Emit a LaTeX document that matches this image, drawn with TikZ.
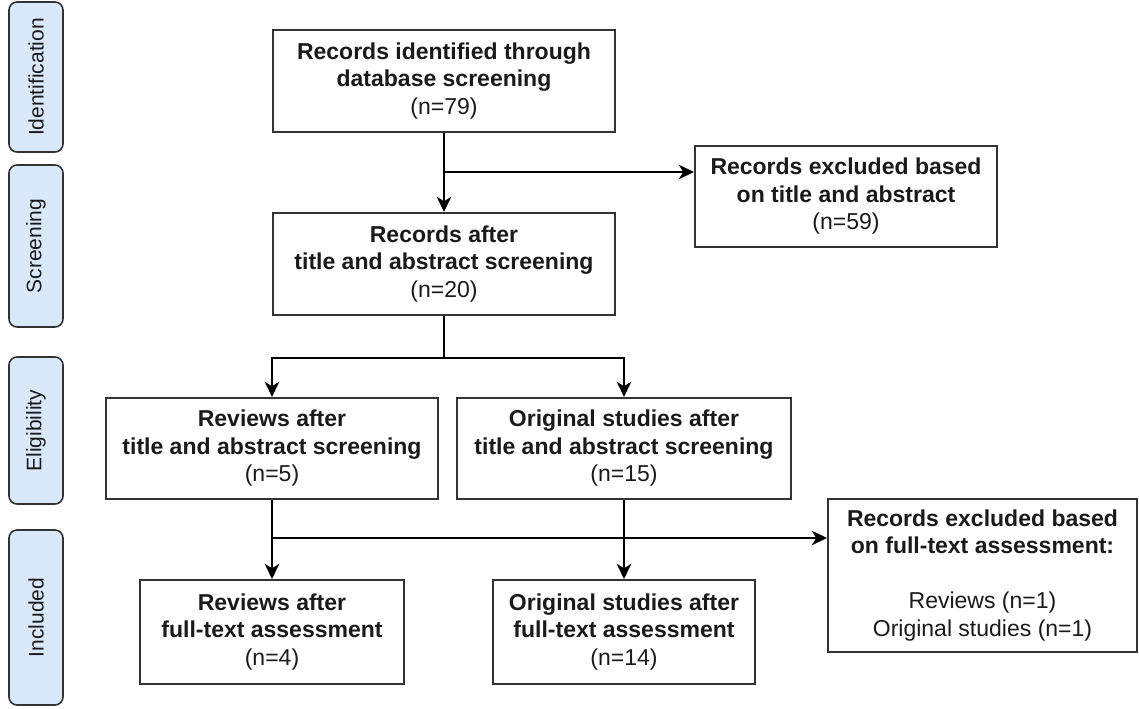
\documentclass[tikz,border=0pt]{standalone}
\usepackage{fontspec}
\setmainfont{Liberation Sans}
\usetikzlibrary{arrows.meta}
\definecolor{phasefill}{HTML}{DAE8FC}
\definecolor{edgegray}{HTML}{333333}
\definecolor{inkgray}{HTML}{1A1A1A}

\begin{document}
\begin{tikzpicture}[x=0.75pt,y=-0.75pt,
  box/.style={draw=edgegray, line width=1.5pt, fill=white, inner sep=0pt,
    align=center, text=inkgray, font=\fontsize{17.25}{20.6}\selectfont},
  phase/.style={draw=edgegray, line width=1.2pt, fill=phasefill,
    rounded corners=6pt, inner sep=0pt, rotate=90, minimum height=40.5pt,
    text=inkgray, font=\fontsize{15.75}{18}\selectfont},
  wire/.style={line width=1.2pt, draw=black},
  link/.style={wire, -{Stealth[length=11.5pt,width=11pt,inset=3.5pt]}}
]
\useasboundingbox (0,0) rectangle (1139,708);

% phase labels down the left margin
\node[phase, minimum width=112.5pt]  (pid)  at (36,77)    {Identification};
\node[phase, minimum width=121.5pt]  (pscr) at (36,246)   {Screening};
\node[phase, minimum width=110.25pt] (pel)  at (36,430.5) {Eligibility};
\node[phase, minimum width=131.25pt] (pinc) at (36,617.5) {Included};

% flow boxes
\node[box, minimum width=256.5pt, minimum height=76.5pt] (b1) at (444,81)
  {\textbf{Records identified through}\\\textbf{database screening}\\(n=79)};
\node[box, minimum width=226.5pt, minimum height=75.75pt] (x1) at (846,196.5)
  {\textbf{Records excluded based}\\\textbf{on title and abstract}\\(n=59)};
\node[box, minimum width=256.5pt, minimum height=76.5pt] (b2) at (444,264)
  {\textbf{Records after}\\\textbf{title and abstract screening}\\(n=20)};
\node[box, minimum width=249pt, minimum height=75.75pt] (rv) at (272,448.5)
  {\textbf{Reviews after}\\\textbf{title and abstract screening}\\(n=5)};
\node[box, minimum width=250.5pt, minimum height=75.75pt] (os) at (624,448.5)
  {\textbf{Original studies after}\\\textbf{title and abstract screening}\\(n=15)};
\node[box, minimum width=231.75pt, minimum height=114.75pt] (x2) at (982.5,575.5)
  {\textbf{Records excluded based}\\\textbf{on full-text assessment:}\\[20.6pt]Reviews (n=1)\\Original studies (n=1)};
\node[box, minimum width=198pt, minimum height=78pt] (rf) at (272,632)
  {\textbf{Reviews after}\\\textbf{full-text assessment}\\(n=4)};
\node[box, minimum width=196.5pt, minimum height=78pt] (of) at (624,632)
  {\textbf{Original studies after}\\\textbf{full-text assessment}\\(n=14)};

% junction points
\coordinate (j1) at (444,172);
\coordinate (j2) at (444,358);
\coordinate (j3) at (272,538);

% connectors
\draw[link] (b1) -- (b2);
\draw[link] (j1) -- (j1 -| x1.west);
\draw[wire] (b2) -- (j2);
\draw[link] (j2) -| (rv.north);
\draw[link] (j2) -| (os.north);
\draw[link] (rv) -- (rf);
\draw[link] (os) -- (of);
\draw[link] (j3) -- (j3 -| x2.west);
\end{tikzpicture}
\end{document}
